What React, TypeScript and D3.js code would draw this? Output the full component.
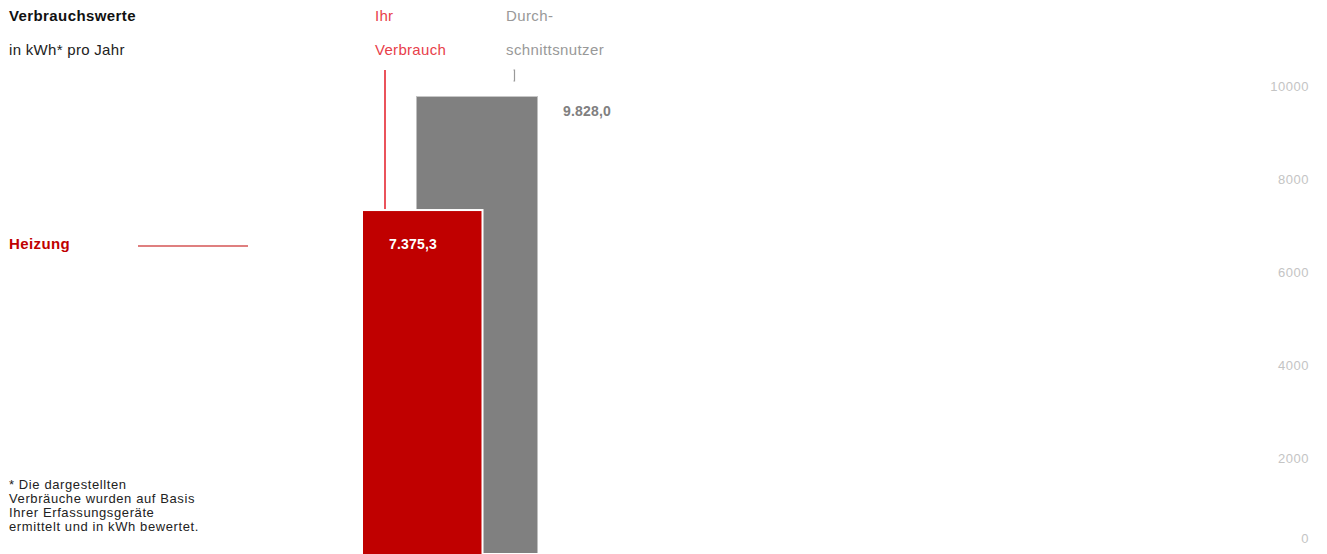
import * as d3 from 'd3';
import React from 'react';

const series = ['Ihr Verbrauch', 'Durchschnittsnutzer'];
const values = [7375.3, 9828.0];
const valueLabels = ['7.375,3', '9.828,0'];
const ticks = [0, 2000, 4000, 6000, 8000, 10000];
const category = 'Heizung';
const footnote = [
  '* Die dargestellten',
  'Verbräuche wurden auf Basis',
  'Ihrer Erfassungsgeräte',
  'ermittelt und in kWh bewertet.',
];

const W = 1327;
const H = 554;
const RED = '#c00000';
const RED_LIGHT = '#e8404a';
const GRAY = '#808080';
const font = '"Liberation Sans", Arial, sans-serif';

const App: React.FC = () => {
  const y = d3.scaleLinear().domain([0, 10000]).range([553, 88]);
  const x = d3.scalePoint<string>().domain(series).range([422.5, 477]);
  const barW = 121;

  const redX = x(series[0])! - barW / 2;
  const grayX = x(series[1])! - barW / 2;

  return (
    <svg width={W} height={H} style={{ position: 'absolute', left: 0, top: 0, fontFamily: font }}>
      {/* header */}
      <text x={9} y={21} fontSize={15} fontWeight={700} fill="#111" letterSpacing={0.4}>Verbrauchswerte</text>
      <text x={9} y={55} fontSize={15} fill="#222" letterSpacing={0.3}>in kWh* pro Jahr</text>

      <text x={375} y={21} fontSize={15} fill={RED_LIGHT} letterSpacing={0.3}>Ihr</text>
      <text x={375} y={55} fontSize={15} fill={RED_LIGHT} letterSpacing={0.3}>Verbrauch</text>
      <text x={506} y={21} fontSize={15} fill="#999" letterSpacing={0.4}>Durch-</text>
      <text x={506} y={55} fontSize={15} fill="#999" letterSpacing={0.4}>schnittsnutzer</text>

      {/* gray bar */}
      <rect x={grayX} y={y(values[1])} width={barW} height={y(0) - y(values[1])} fill={GRAY} />
      <line x1={grayX} x2={grayX + barW} y1={y(values[1]) + 0.5} y2={y(values[1]) + 0.5} stroke="#c8c8c8" />
      <path d={`M513.5,70 h1 v11 h-1`} fill="none" stroke="#999" strokeWidth={1.2} />
      <text x={563} y={116} fontSize={14} fontWeight={700} fill={GRAY} letterSpacing={0.2}>{valueLabels[1]}</text>

      {/* red bar */}
      <line x1={385} x2={385} y1={70} y2={y(values[0])} stroke={RED_LIGHT} strokeWidth={1.8} />
      <rect x={redX} y={y(values[0])} width={barW - 0.5} height={y(0) - y(values[0]) + 2} fill={RED} stroke="#fff" strokeWidth={2} />
      <text x={413} y={249} textAnchor="middle" fontSize={14} fontWeight={700} fill="#fff" letterSpacing={0.2}>{valueLabels[0]}</text>

      {/* category */}
      <text x={9} y={249} fontSize={15} fontWeight={700} fill={RED} letterSpacing={0.4}>{category}</text>
      <line x1={138} x2={248} y1={246} y2={246} stroke={RED} strokeWidth={1.2} />

      {/* axis */}
      {ticks.map(t => (
        <text key={t} x={1309} y={Math.min(y(t) - 2, 538)} dy="0.35em" textAnchor="end" fontSize={13} fill="#c4c4c4" letterSpacing={0.5}>{t}</text>
      ))}

      {/* footnote */}
      {footnote.map((l, i) => (
        <text key={i} x={9} y={489 + i * 14} fontSize={13} fill="#222" letterSpacing={0.6}>{l}</text>
      ))}
    </svg>
  );
};

export default App;
